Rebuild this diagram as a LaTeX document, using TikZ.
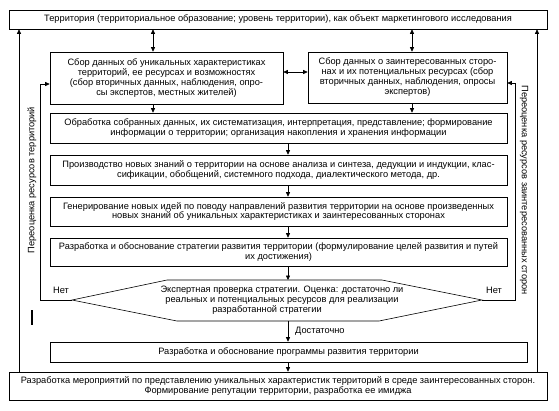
\documentclass[tikz,border=0pt]{standalone}
\usepackage{fontspec}
\setmainfont{Liberation Sans}
\usetikzlibrary{arrows.meta,shadows}
\begin{document}
\begin{tikzpicture}[x=1bp,y=-1bp,
  every node/.style={font=\fontsize{9.3}{10}\selectfont},
  box/.style={draw, fill=white, line width=0.6bp, inner sep=0pt, align=center,
    drop shadow={shadow xshift=1bp, shadow yshift=-1bp, fill=gray!45, opacity=1}},
  arr/.style={-{Triangle[length=4.5bp,width=4bp]}, line width=0.6bp},
  darr/.style={{Triangle[length=4.5bp,width=4bp]}-{Triangle[length=4.5bp,width=4bp]}, line width=0.6bp},
  lbl/.style={inner sep=0pt}]
\fill[white] (0,0) rectangle (559,410);
\useasboundingbox (0,0) rectangle (559,410);

\node[box, minimum width=538bp, minimum height=19bp] (top) at (278,19.5)
  {Территория (территориальное образование; уровень территории), как объект маркетингового исследования};
\node[box, minimum width=233bp, minimum height=52bp] (lbox) at (166.5,78)
  {Сбор данных об уникальных характеристиках\\территорий, ее ресурсах и возможностях\\(сбор вторичных данных, наблюдения, опро-\\сы экспертов, местных жителей)};
\node[box, minimum width=199bp, minimum height=51bp] (rbox) at (407.5,77.5)
  {Сбор данных о заинтересованных сторо-\\нах и их потенциальных ресурсах (сбор\\вторичных данных, наблюдения, опросы\\экспертов)};
\node[box, minimum width=457bp, minimum height=30bp] (b3) at (278.5,128)
  {Обработка собранных данных, их систематизация, интерпретация, представление; формирование\\информации о территории; организация накопления и хранения информации};
\node[box, minimum width=457bp, minimum height=30bp] (b4) at (278.5,170)
  {Производство новых знаний о территории на основе анализа и синтеза, дедукции и индукции, клас-\\сификации, обобщений, системного подхода, диалектического метода, др.};
\node[box, minimum width=457bp, minimum height=29bp] (b5) at (278.5,211.5)
  {Генерирование новых идей по поводу направлений развития территории на основе произведенных\\новых знаний об уникальных характеристиках и заинтересованных сторонах};
\node[box, minimum width=457bp, minimum height=28bp] (b6) at (278.5,252)
  {Разработка и обоснование стратегии развития территории (формулирование целей развития и путей\\их достижения)};

\coordinate (dl) at (72,300);
\coordinate (dr) at (482,300);
\coordinate (dt) at (288,280);
\coordinate (db) at (288,321);
\draw[line width=0.6bp] (dl) -- (167,280) -- (382,280) -- (dr) -- (379,321) -- (177,321) -- cycle;
\node[lbl, align=center] (dtext) at (282,300.5)
  {Экспертная проверка стратегии. Оценка: достаточно ли\\реальных и потенциальных ресурсов для реализации\\разработанной стратегии\hspace*{30bp}};

\node[box, minimum width=477bp, minimum height=20bp] (prog) at (288.5,352)
  {Разработка и обоснование программы развития территории};
\node[box, minimum width=538bp, minimum height=28bp] (bot) at (278,386)
  {Разработка мероприятий по представлению уникальных характеристик территорий в среде заинтересованных сторон.\\Формирование репутации территории, разработка ее имиджа};

\coordinate (xl) at (153,0);
\coordinate (xr) at (412,0);
\coordinate (xm) at (288,0);
\coordinate (ym) at (0,72);
\coordinate (xa) at (40,0);
\coordinate (yl) at (0,84);
\coordinate (xb) at (515,0);
\coordinate (yr) at (0,83);
\coordinate (xo) at (19,0);
\coordinate (xp) at (537,0);

\draw[darr] (top.south -| xl) -- (lbox.north -| xl);
\draw[darr] (top.south -| xr) -- (rbox.north -| xr);
\draw[darr] (lbox.east |- ym) -- (rbox.west |- ym);
\draw[arr] (lbox.south -| xl) -- (b3.north -| xl);
\draw[arr] (rbox.south -| xr) -- (b3.north -| xr);
\draw[arr] (b3.south -| xm) -- (b4.north -| xm);
\draw[arr] (b4.south -| xm) -- (b5.north -| xm);
\draw[arr] (b5.south -| xm) -- (b6.north -| xm);
\draw[arr] (b6.south -| xm) -- (dt);
\draw[arr] (db) -- (prog.north -| xm);
\draw[arr] (prog.south -| xm) -- (bot.north -| xm);
\draw[arr] (dl) -- (dl -| xa) -- (xa |- yl) -- (lbox.west |- yl);
\draw[arr] (dr) -- (dr -| xb) -- (xb |- yr) -- (rbox.east |- yr);
\draw[arr] (bot.north -| xo) -- (top.south -| xo);
\draw[arr] (bot.north -| xp) -- (top.south -| xp);

\node[lbl, anchor=west] (ok) at (295,331) {Достаточно};
\node[lbl] (noL) at (61,290) {Нет};
\node[lbl] (noR) at (494,290) {Нет};
\node[lbl, rotate=90] (reL) at (32,180) {Переоценка ресурсов территорий};
\node[lbl, rotate=-90] (reR) at (524,190) {Переоценка ресурсов заинтересованных сторон};
\draw[line width=1.5bp] (32,310) -- (32,325);
\end{tikzpicture}
\end{document}
